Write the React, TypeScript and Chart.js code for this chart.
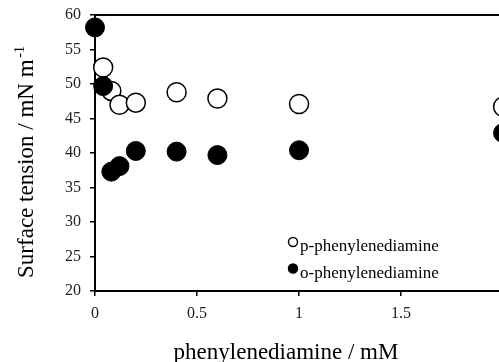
import React, { useEffect, useRef } from "react";
import { Chart, registerables } from "chart.js";

Chart.register(...registerables);

// ---- data ----
const P_LABEL = "p-phenylenediamine";
const O_LABEL = "o-phenylenediamine";
const P_X = [0.04, 0.08, 0.12, 0.2, 0.4, 0.6, 1.0, 2.0];
const P_Y = [52.4, 49.0, 47.0, 47.3, 48.8, 47.9, 47.1, 46.7];
const O_X = [0, 0.04, 0.08, 0.12, 0.2, 0.4, 0.6, 1.0, 2.0];
const O_Y = [58.2, 49.7, 37.3, 38.1, 40.3, 40.2, 39.7, 40.4, 42.9];
const X_TICKS = [0, 0.5, 1, 1.5, 2];
const Y_TICKS = [20, 25, 30, 35, 40, 45, 50, 55, 60];
const X_TITLE = "phenylenediamine / mM";
const Y_TITLE = "Surface tension / mN m";
const Y_TITLE_SUP = "-1";

const W = 499;
const H = 362;
const FONT = "'Liberation Serif', 'Times New Roman', serif";

const overlay = {
  id: "overlay",
  afterDraw(chart: any) {
    const { ctx, chartArea } = chart;
    ctx.save();
    ctx.fillStyle = "#000";
    // x title
    ctx.font = `23px ${FONT}`;
    ctx.textAlign = "center";
    ctx.textBaseline = "alphabetic";
    ctx.fillText(X_TITLE, 286, 359);
    // y title (rotated) with superscript
    ctx.save();
    ctx.translate(33, 160);
    ctx.rotate(-Math.PI / 2);
    ctx.textAlign = "left";
    ctx.font = `23px ${FONT}`;
    const w1 = ctx.measureText(Y_TITLE + " ").width;
    ctx.font = `14px ${FONT}`;
    const w2 = ctx.measureText(Y_TITLE_SUP).width;
    const start = -(w1 + w2) / 2;
    ctx.font = `23px ${FONT}`;
    ctx.fillText(Y_TITLE, start, 0);
    ctx.font = `14px ${FONT}`;
    ctx.fillText(Y_TITLE_SUP, start + w1 - 4, -9);
    ctx.restore();
    // legend
    const rows = [242, 268.5];
    chart.data.datasets.forEach((ds: any, i: number) => {
      const y = rows[i];
      const x = chartArea.left + 198;
      ctx.beginPath();
      ctx.arc(x, y, 4.5, 0, Math.PI * 2);
      ctx.fillStyle = ds.pointBackgroundColor;
      ctx.fill();
      ctx.lineWidth = 1.5;
      ctx.strokeStyle = "#000";
      ctx.stroke();
      ctx.fillStyle = "#000";
      ctx.font = `17px ${FONT}`;
      ctx.textAlign = "left";
      ctx.textBaseline = "alphabetic";
      ctx.fillText(ds.label, x + 7, y + 9);
    });
    ctx.restore();
  },
};

export default function App() {
  const ref = useRef<HTMLCanvasElement>(null);
  useEffect(() => {
    if (!ref.current) return;
    const chart = new Chart(ref.current, {
      type: "scatter",
      data: {
        datasets: [
          {
            label: P_LABEL,
            data: P_X.map((x, i) => ({ x, y: P_Y[i] })),
            pointRadius: 9.5,
            pointBorderWidth: 1.5,
            pointBorderColor: "#000",
            pointBackgroundColor: "#fff",
            order: 2,
            clip: false,
          } as any,
          {
            label: O_LABEL,
            data: O_X.map((x, i) => ({ x, y: O_Y[i] })),
            pointRadius: 9.5,
            pointBorderWidth: 1,
            pointBorderColor: "#000",
            pointBackgroundColor: "#000",
            order: 1,
            clip: false,
          } as any,
        ],
      },
      options: {
        animation: false,
        responsive: false,
        devicePixelRatio: 1,
        layout: { autoPadding: false, padding: { left: 0, top: 15, right: 0, bottom: 0 } },
        plugins: {
          legend: { display: false },
          tooltip: { enabled: false },
        },
        scales: {
          x: {
            type: "linear",
            position: "bottom",
            min: 0,
            max: 1.98,
            afterBuildTicks: (s: any) => {
              s.ticks = X_TICKS.filter((v) => v <= s.max).map((v) => ({ value: v }));
            },
            afterFit: (s: any) => {
              s.height = 71;
              s.paddingLeft = 0;
              s.paddingRight = 0;
            },
            ticks: {
              color: "#222",
              font: { family: FONT, size: 16 },
              padding: 8,
              maxRotation: 0,
              callback: (v: any) => String(v),
            },
            grid: {
              display: true,
              drawOnChartArea: false,
              drawTicks: true,
              tickLength: 5,
              color: "#000",
              lineWidth: 1.5,
            },
            border: { display: true, color: "#000", width: 2 },
          },
          xTop: {
            type: "linear",
            position: "top",
            min: 0,
            max: 1.98,
            afterFit: (s: any) => {
              s.height = 0;
              s.paddingLeft = 0;
              s.paddingRight = 0;
            },
            ticks: { display: false },
            grid: { display: true, drawOnChartArea: false, drawTicks: false },
            border: { display: true, color: "#000", width: 2 },
          },
          y: {
            type: "linear",
            position: "left",
            min: 20,
            max: 60,
            afterBuildTicks: (s: any) => {
              s.ticks = Y_TICKS.map((v) => ({ value: v }));
            },
            afterFit: (s: any) => {
              s.width = 95;
              s.paddingTop = 0;
              s.paddingBottom = 0;
            },
            ticks: {
              color: "#222",
              font: { family: FONT, size: 16 },
              padding: 9,
            },
            grid: {
              display: true,
              drawOnChartArea: false,
              drawTicks: true,
              tickLength: 5,
              color: "#000",
              lineWidth: 1.5,
            },
            border: { display: true, color: "#000", width: 2 },
          },
        },
      } as any,
      plugins: [overlay],
    });
    return () => chart.destroy();
  }, []);
  return (
    <div style={{ position: "fixed", left: 0, top: 0, width: W, height: H, background: "#fff" }}>
      <canvas ref={ref} width={W} height={H} style={{ display: "block" }} />
    </div>
  );
}
